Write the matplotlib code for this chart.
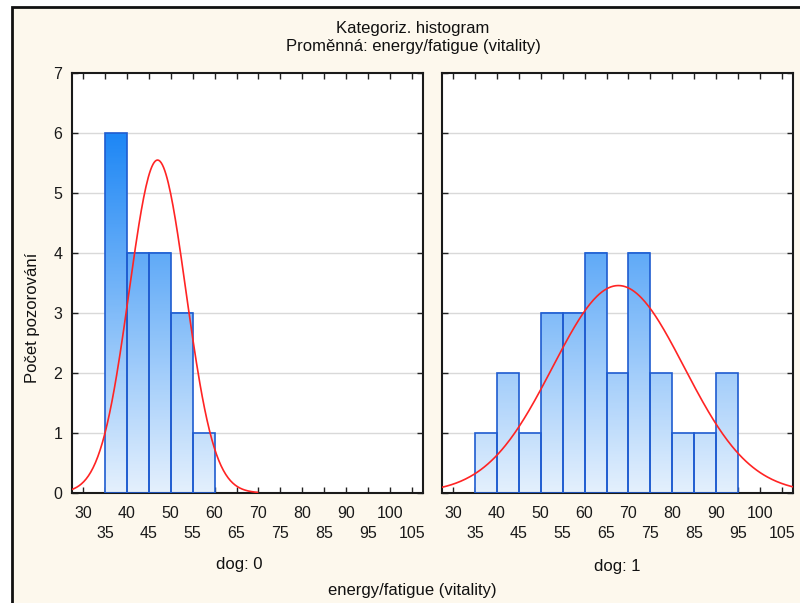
import numpy as np
import matplotlib
matplotlib.use("Agg")
import matplotlib.pyplot as plt
from matplotlib.colors import LinearSegmentedColormap
from matplotlib.patches import Rectangle

plt.rcParams['font.family'] = ['Liberation Sans', 'DejaVu Sans']

# ---- data ----
bin_edges = [35, 40, 45, 50, 55, 60, 65, 70, 75, 80, 85, 90, 95]
counts_dog0 = [6, 4, 4, 3, 1, 0, 0, 0, 0, 0, 0, 0]
counts_dog1 = [1, 2, 1, 3, 3, 4, 2, 4, 2, 1, 1, 2]
fit_dog0 = {"mean": 47.0, "sd": 6.47, "n": 18}
fit_dog1 = {"mean": 67.7, "sd": 15.0, "n": 26}
panel_labels = ["dog: 0", "dog: 1"]
x_ticks_row1 = [30, 40, 50, 60, 70, 80, 90, 100]
x_ticks_row2 = [35, 45, 55, 65, 75, 85, 95, 105]
y_ticks = list(range(0, 8))
title_lines = ["Kategoriz. histogram", "Proměnná: energy/fatigue (vitality)"]
ylabel = "Počet pozorování"
xlabel = "energy/fatigue (vitality)"

W, H = 800, 603
fig = plt.figure(figsize=(8, 6.03), dpi=100, facecolor='white')

def fx(px):
    return px / W

def fy(py):
    return 1 - py / H

# framed cream background
fig.patches.append(Rectangle((fx(12), fy(640)), fx(900), fy(7) - fy(640),
                             transform=fig.transFigure, facecolor='#FDF8ED',
                             edgecolor='#111111', linewidth=2, zorder=-10))

cmap = LinearSegmentedColormap.from_list('g', ['#E4F0FD', '#1E87F5'])

ax_w = 351
ax_top = 73
ax_bot = 493
positions = [72, 442]
datasets = [(counts_dog0, fit_dog0), (counts_dog1, fit_dog1)]
xlim = (27.5, 107.5)
ylim = (0, 7)
FS = 11.5
FT = 12

for i, (px0, (counts, fit)) in enumerate(zip(positions, datasets)):
    ax = fig.add_axes([fx(px0), fy(ax_bot), fx(ax_w), fy(ax_top) - fy(ax_bot)])
    ax.set_facecolor('white')
    for yv in y_ticks[1:-1]:
        ax.axhline(yv, color='#D9D9D9', lw=1, zorder=1)
    lefts = np.array(bin_edges[:-1])
    widths = np.diff(bin_edges)
    cnt = np.array(counts)
    keep = cnt > 0
    for l, w, c in zip(lefts[keep], widths[keep], cnt[keep]):
        grad = np.linspace(0, c, 100).reshape(-1, 1)
        ax.imshow(grad, extent=(l, l + w, 0, c), origin='lower', aspect='auto',
                  cmap=cmap, vmin=0, vmax=6, zorder=2, interpolation='bilinear')
    ax.bar(lefts[keep], cnt[keep], width=widths[keep], align='edge', color='none',
           edgecolor='#1F5CD0', linewidth=1.2, zorder=3)
    xs = np.linspace(xlim[0], xlim[1], 300)
    ys = fit["n"] * 5 / (fit["sd"] * np.sqrt(2 * np.pi)) * np.exp(-0.5 * ((xs - fit["mean"]) / fit["sd"]) ** 2)
    ys = np.where(ys < 0.01, np.nan, ys)
    ax.plot(xs, ys, color='#FF2424', lw=1.2, zorder=4)
    ax.set_xlim(*xlim)
    ax.set_ylim(*ylim)
    ax.set_xticks(x_ticks_row1)
    ax.set_xticklabels([str(v) for v in x_ticks_row1], fontsize=FS)
    ax.set_xticks(x_ticks_row2, minor=True)
    ax.set_xticklabels([str(v) for v in x_ticks_row2], minor=True, fontsize=FS)
    ax.set_yticks(y_ticks)
    if i == 0:
        ax.set_yticklabels([str(v) for v in y_ticks], fontsize=FS)
    else:
        ax.set_yticklabels([])
    ax.tick_params(axis='x', which='major', direction='in', length=4, width=1, top=True, pad=9, colors='#222222')
    ax.tick_params(axis='x', which='minor', direction='in', length=4, width=1, top=True, pad=23.5, colors='#222222')
    ax.tick_params(axis='y', direction='in', length=4, width=1, right=True, pad=7, colors='#222222')
    ax.tick_params(which='both', labelcolor='#1a1a1a')
    for s in ax.spines.values():
        s.set_linewidth(1.5)
        s.set_color('#1a1a1a')

tkw = dict(ha='center', va='center', fontsize=FT, color='#111111')
fig.text(fx(413), fy(28), title_lines[0], **tkw)
fig.text(fx(413), fy(47), title_lines[1], **tkw)
fig.text(fx(33), fy(318), ylabel, rotation=90, **tkw)
fig.text(fx(239), fy(565), panel_labels[0], **tkw)
fig.text(fx(617), fy(566), panel_labels[1], **tkw)
fig.text(fx(412), fy(590), xlabel, **tkw)

fig.savefig('out.png', dpi=100, facecolor='white')
